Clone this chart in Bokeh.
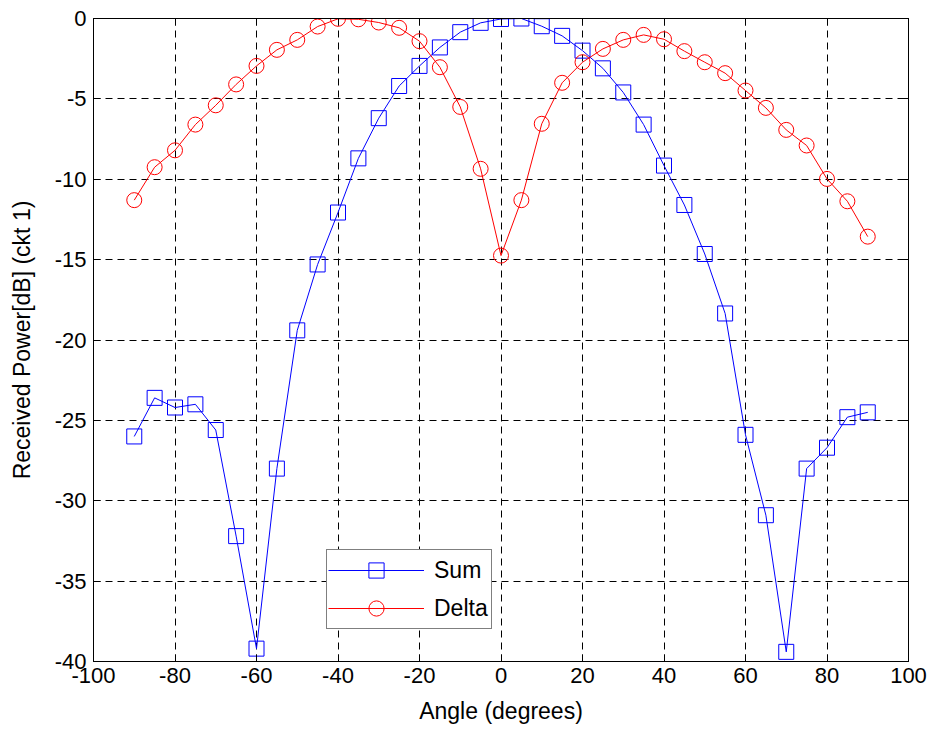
from bokeh.plotting import figure
from bokeh.models import Range1d, FixedTicker, LinearAxis, Legend
from bokeh.embed import file_html
from bokeh.resources import INLINE

angles = [-90, -85, -80, -75, -70, -65, -60, -55, -50, -45, -40, -35, -30, -25, -20, -15, -10, -5,
          0, 5, 10, 15, 20, 25, 30, 35, 40, 45, 50, 55, 60, 65, 70, 75, 80, 85, 90]

sum_db = [-26.0, -23.6, -24.2, -24.0, -25.6, -32.2, -39.2, -28.0, -19.4, -15.3, -12.07, -8.7, -6.2,
          -4.2, -2.95, -1.8, -0.85, -0.27, -0.03, 0.0, -0.48, -1.08, -2.0, -3.1, -4.6, -6.6, -9.15,
          -11.6, -14.65, -18.35, -25.9, -30.9, -39.4, -28.0, -26.7, -24.8, -24.5]

delta_db = [-11.3, -9.25, -8.2, -6.6, -5.4, -4.1, -2.95, -1.95, -1.33, -0.5, -0.02, -0.05, -0.25,
            -0.58, -1.41, -3.03, -5.5, -9.35, -14.75, -11.3, -6.55, -4.0, -2.72, -1.89, -1.33, -1.02,
            -1.29, -2.03, -2.72, -3.4, -4.48, -5.56, -6.93, -7.9, -9.98, -11.37, -13.57]

x_ticks = [-100, -80, -60, -40, -20, 0, 20, 40, 60, 80, 100]
y_ticks = [0, -5, -10, -15, -20, -25, -30, -35, -40]

FONT = "Liberation Sans"

p = figure(width=932, height=732, output_backend="svg", toolbar_location=None,
           x_range=Range1d(-100, 100), y_range=Range1d(-40, 0),
           min_border_left=93, min_border_right=24, min_border_top=18, min_border_bottom=71,
           x_axis_label="Angle (degrees)", y_axis_label="Received Power[dB] (ckt 1)")
p.background_fill_color = "white"
p.border_fill_color = "white"
p.outline_line_color = "black"
p.outline_line_width = 1

for ax in (p.xaxis[0], p.yaxis[0]):
    ax.major_tick_in = 7
    ax.major_tick_out = 0
    ax.minor_tick_line_color = None
    ax.axis_line_color = "black"
    ax.major_tick_line_color = "black"
    ax.major_label_text_font = FONT
    ax.major_label_text_font_size = "22px"
    ax.major_label_text_color = "black"
    ax.axis_label_text_font = FONT
    ax.axis_label_text_font_size = "23px"
    ax.axis_label_text_font_style = "normal"
    ax.axis_label_text_color = "black"

p.xaxis[0].ticker = FixedTicker(ticks=x_ticks)
p.yaxis[0].ticker = FixedTicker(ticks=y_ticks)
p.xaxis[0].major_label_overrides = {t: str(t) for t in x_ticks}
p.yaxis[0].major_label_overrides = {t: str(t) for t in y_ticks}
p.xaxis[0].major_label_standoff = 6
p.yaxis[0].major_label_standoff = 7
p.xaxis[0].axis_label_standoff = 12
p.yaxis[0].axis_label_standoff = 17

for loc, ticks in (("above", x_ticks), ("right", y_ticks)):
    ax = LinearAxis(ticker=FixedTicker(ticks=ticks), major_tick_in=7, major_tick_out=0,
                    minor_tick_line_color=None, major_label_overrides={t: "" for t in ticks},
                    major_label_standoff=0, axis_line_color="black")
    p.add_layout(ax, loc)

for g in (p.xgrid[0], p.ygrid[0]):
    g.grid_line_color = "black"
    g.grid_line_dash = "7 5"
    g.grid_line_width = 1
p.xgrid[0].ticker = FixedTicker(ticks=x_ticks)
p.ygrid[0].ticker = FixedTicker(ticks=y_ticks)

r1 = p.line(angles, sum_db, line_color="blue", line_width=1)
r2 = p.scatter(angles, sum_db, marker="square", size=15, line_color="blue", fill_color=None, line_width=1)
r3 = p.line(angles, delta_db, line_color="red", line_width=1)
r4 = p.scatter(angles, delta_db, marker="circle", size=15, line_color="red", fill_color=None, line_width=1)

legend = Legend(items=[("Sum", [r1, r2]), ("Delta", [r3, r4])], location=(233, 32))
legend.border_line_color = "black"
legend.border_line_width = 1
legend.background_fill_color = "white"
legend.background_fill_alpha = 1
legend.label_text_font = FONT
legend.label_text_font_size = "23px"
legend.label_text_color = "black"
legend.padding = 1
legend.margin = 0
legend.spacing = 0
legend.glyph_width = 96
legend.glyph_height = 38
legend.label_height = 38
legend.label_width = 56
legend.label_standoff = 10
p.add_layout(legend, "center")

open("out.html", "w").write(file_html(p, INLINE))
